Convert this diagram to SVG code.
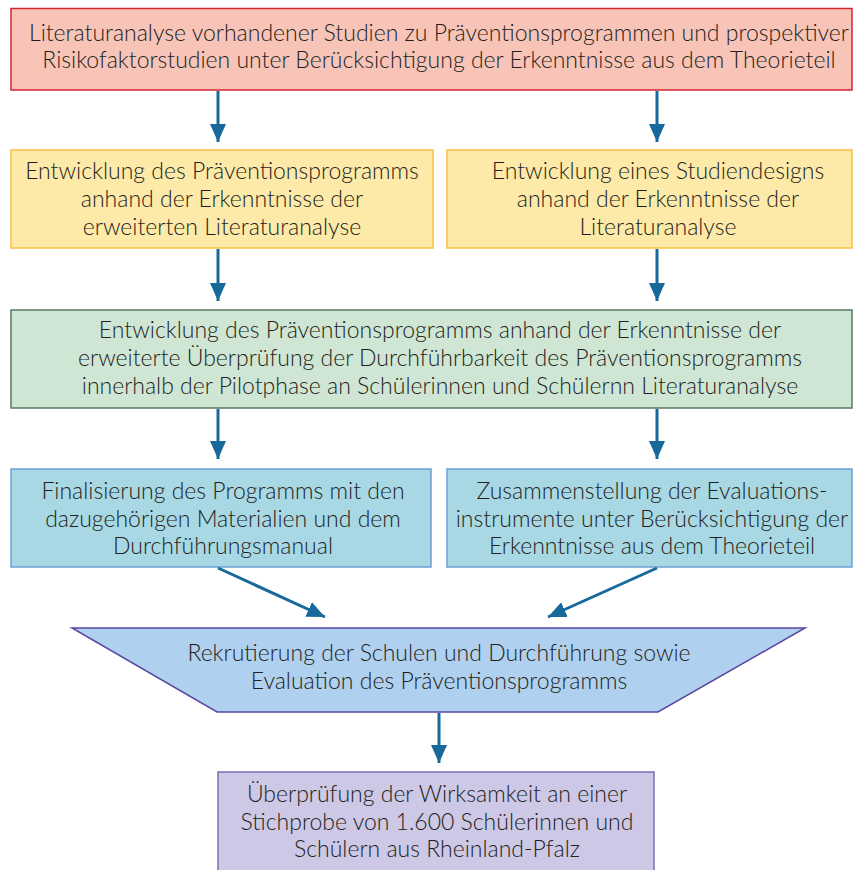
<svg xmlns="http://www.w3.org/2000/svg" width="854" height="870" viewBox="0 0 854 870">
  <defs>
    <marker id="arrow" viewBox="0 0 18 16" refX="18" refY="8" markerWidth="18" markerHeight="16" markerUnits="userSpaceOnUse" orient="auto">
      <path d="M0,0 L18,8 L0,16 Z" fill="#17699c"/>
    </marker>
    <style>
      .t { font-family: "Lato", "Open Sans", sans-serif; font-weight: 300; font-size: 23px; fill: #231f20; text-anchor: middle; }
      .edge { stroke: #17699c; stroke-width: 3; fill: none; marker-end: url(#arrow); }
    </style>
  </defs>
  <rect width="854" height="870" fill="#ffffff"/>

  <g id="literature">
    <rect x="11" y="8.5" width="841" height="81.5" fill="#f8c4b8" stroke="#d22630" stroke-width="1.5"/>
    <text class="t" x="439" y="41">Literaturanalyse vorhandener Studien zu Präventionsprogrammen und prospektiver</text>
    <text class="t" x="439" y="68">Risikofaktorstudien unter Berücksichtigung der Erkenntnisse aus dem Theorieteil</text>
  </g>

  <g id="program-dev">
    <rect x="11" y="150" width="422" height="98" fill="#feeaa8" stroke="#f8c040" stroke-width="1.5"/>
    <text class="t" x="222" y="179">Entwicklung des Präventionsprogramms</text>
    <text class="t" x="222" y="207">anhand der Erkenntnisse der</text>
    <text class="t" x="222" y="235">erweiterten Literaturanalyse</text>
  </g>

  <g id="study-design">
    <rect x="447" y="150" width="405" height="98" fill="#feeaa8" stroke="#f8c040" stroke-width="1.5"/>
    <text class="t" x="658" y="179">Entwicklung eines Studiendesigns</text>
    <text class="t" x="658" y="207">anhand der Erkenntnisse der</text>
    <text class="t" x="658" y="235">Literaturanalyse</text>
  </g>

  <g id="pilot">
    <rect x="11" y="310" width="841" height="98" fill="#d0e6d4" stroke="#5a7a5e" stroke-width="1.5"/>
    <text class="t" x="440" y="338">Entwicklung des Präventionsprogramms anhand der Erkenntnisse der</text>
    <text class="t" x="440" y="366">erweiterte Überprüfung der Durchführbarkeit des Präventionsprogramms</text>
    <text class="t" x="440" y="394">innerhalb der Pilotphase an Schülerinnen und Schülernn Literaturanalyse</text>
  </g>

  <g id="finalise">
    <rect x="11" y="469" width="420" height="98" fill="#a8d8e4" stroke="#6aa0d8" stroke-width="1.5"/>
    <text class="t" x="223" y="499">Finalisierung des Programms mit den</text>
    <text class="t" x="223" y="527">dazugehörigen Materialien und dem</text>
    <text class="t" x="223" y="554">Durchführungsmanual</text>
  </g>

  <g id="instruments">
    <rect x="447" y="469" width="405" height="98" fill="#a8d8e4" stroke="#6aa0d8" stroke-width="1.5"/>
    <text class="t" x="652" y="499">Zusammenstellung der Evaluations-</text>
    <text class="t" x="652" y="527">instrumente unter Berücksichtigung der</text>
    <text class="t" x="652" y="554">Erkenntnisse aus dem Theorieteil</text>
  </g>

  <g id="recruitment">
    <polygon points="72,628 805,628 658,712 217,712" fill="#b0d0f0" stroke="#5848a0" stroke-width="1.5"/>
    <text class="t" x="439" y="661">Rekrutierung der Schulen und Durchführung sowie</text>
    <text class="t" x="439" y="689">Evaluation des Präventionsprogramms</text>
  </g>

  <g id="effectiveness">
    <rect x="218" y="772" width="436" height="100" fill="#ccc8e6" stroke="#7a70b4" stroke-width="1.5"/>
    <text class="t" x="437" y="802">Überprüfung der Wirksamkeit an einer</text>
    <text class="t" x="437" y="830">Stichprobe von 1.600 Schülerinnen und</text>
    <text class="t" x="437" y="857">Schülern aus Rheinland-Pfalz</text>
  </g>

  <g id="connectors">
    <line class="edge" x1="218" y1="91" x2="218" y2="142"/>
    <line class="edge" x1="657" y1="91" x2="657" y2="142"/>
    <line class="edge" x1="218" y1="249" x2="218" y2="301"/>
    <line class="edge" x1="657" y1="249" x2="657" y2="301"/>
    <line class="edge" x1="218" y1="409" x2="218" y2="459"/>
    <line class="edge" x1="657" y1="409" x2="657" y2="459"/>
    <line class="edge" x1="218" y1="568" x2="325" y2="617"/>
    <line class="edge" x1="657" y1="568" x2="548" y2="617"/>
    <line class="edge" x1="439" y1="713" x2="439" y2="763"/>
  </g>
</svg>
